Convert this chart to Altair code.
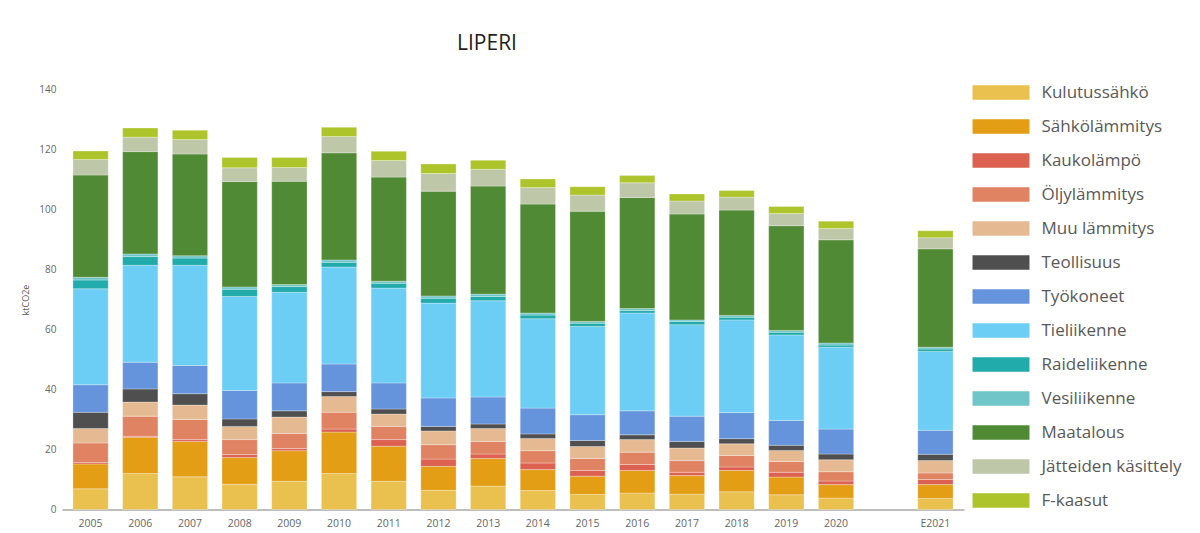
import altair as alt
import pandas as pd

years = ["2005", "2006", "2007", "2008", "2009", "2010", "2011", "2012", "2013",
         "2014", "2015", "2016", "2017", "2018", "2019", "2020", "E2021"]
x_domain = years[:-1] + ["gap"] + years[-1:]

categories = ["Kulutussähkö", "Sähkölämmitys", "Kaukolämpö", "Öljylämmitys",
              "Muu lämmitys", "Teollisuus", "Työkoneet", "Tieliikenne",
              "Raideliikenne", "Vesiliikenne", "Maatalous", "Jätteiden käsittely",
              "F-kaasut"]
colors = ["#EAC04F", "#E39E15", "#DC6150", "#E08363", "#E5BA93", "#4F4F4F",
          "#6594DD", "#6DCEF5", "#22ABAB", "#6FC5C8", "#518A35", "#BFC7A9",
          "#ADC52A"]

kulutussahko = [6.9, 12.0, 10.9, 8.4, 9.4, 12.0, 9.4, 6.4, 7.8, 6.3, 5.0, 5.5, 5.1, 5.9, 4.9, 3.8, 3.7]
sahkolammitys = [8.3, 12.1, 11.8, 8.9, 10.2, 13.8, 11.7, 8.0, 9.2, 7.0, 6.1, 7.5, 6.2, 7.1, 5.9, 4.5, 4.6]
kaukolampo = [0.5, 0.3, 0.6, 1.0, 0.7, 1.0, 2.2, 2.4, 1.5, 2.2, 1.9, 2.0, 1.1, 1.2, 1.6, 1.2, 1.7]
oljylammitys = [6.5, 6.7, 6.7, 5.0, 5.0, 5.6, 4.4, 4.8, 4.2, 4.1, 4.0, 4.1, 3.9, 3.8, 3.6, 3.1, 2.2]
muu_lammitys = [4.8, 4.7, 4.8, 4.4, 5.5, 5.3, 4.1, 4.6, 4.3, 4.1, 4.0, 4.2, 4.2, 3.9, 3.7, 4.0, 4.1]
teollisuus = [5.4, 4.4, 3.8, 2.5, 2.1, 1.6, 1.7, 1.5, 1.5, 1.5, 2.0, 1.6, 2.2, 1.7, 1.7, 1.9, 2.1]
tyokoneet = [9.2, 8.9, 9.4, 9.5, 9.3, 9.2, 8.7, 9.5, 9.0, 8.6, 8.6, 8.0, 8.4, 8.7, 8.3, 8.3, 8.0]
tieliikenne = [32.0, 32.3, 33.4, 31.3, 30.2, 32.3, 31.6, 31.6, 32.1, 29.8, 29.4, 32.6, 30.5, 30.9, 28.5, 27.3, 26.3]
raideliikenne = [2.9, 2.9, 2.4, 2.4, 1.9, 1.6, 1.6, 1.6, 1.4, 1.2, 1.1, 0.8, 1.1, 0.9, 0.9, 0.7, 0.8]
vesiliikenne = [0.9, 0.9, 0.8, 0.8, 0.7, 0.8, 0.7, 0.8, 0.8, 0.7, 0.6, 0.7, 0.5, 0.6, 0.6, 0.7, 0.6]
maatalous = [34.1, 34.1, 33.9, 35.1, 34.4, 35.7, 34.7, 34.9, 36.0, 36.3, 36.7, 37.0, 35.3, 35.1, 34.9, 34.4, 32.8]
jatteiden = [5.2, 4.8, 4.8, 4.6, 4.6, 5.4, 5.5, 5.9, 5.6, 5.5, 5.4, 4.9, 4.3, 4.3, 4.1, 3.8, 3.7]
f_kaasut = [2.8, 3.1, 3.1, 3.4, 3.3, 3.1, 3.1, 3.2, 3.0, 2.9, 2.8, 2.4, 2.4, 2.2, 2.3, 2.4, 2.3]

series = [kulutussahko, sahkolammitys, kaukolampo, oljylammitys, muu_lammitys,
          teollisuus, tyokoneet, tieliikenne, raideliikenne, vesiliikenne,
          maatalous, jatteiden, f_kaasut]

rows = []
for idx, (cat, vals) in enumerate(zip(categories, series)):
    for yr, v in zip(years, vals):
        rows.append({"year": yr, "category": cat, "value": v, "idx": idx})
df = pd.DataFrame(rows)

FONT = "Open Sans"

chart = alt.Chart(df).mark_bar(stroke="white", strokeWidth=0.4, strokeOpacity=0.7).encode(
    x=alt.X("year:N", scale=alt.Scale(domain=x_domain, paddingInner=0.29, paddingOuter=0.22),
            axis=alt.Axis(title=None, labelAngle=0, ticks=False, domainColor="#A8A8A8",
                          domainWidth=1.5, labelColor="#666666", labelFontSize=10.5,
                          labelFont=FONT, labelPadding=9,
                          labelExpr="datum.value == 'gap' ? '' : datum.label")),
    y=alt.Y("value:Q", stack="zero", scale=alt.Scale(domain=[0, 140], nice=False),
            axis=alt.Axis(title="ktCO2e", values=[0, 20, 40, 60, 80, 100, 120, 140],
                          grid=False, domain=False, ticks=False, labelColor="#666666",
                          labelFontSize=10, labelFont=FONT, labelPadding=6,
                          titleFontSize=9, titleFont=FONT, titleFontWeight="normal",
                          titleColor="#555555", titlePadding=8)),
    color=alt.Color("category:N", scale=alt.Scale(domain=categories, range=colors),
                    legend=alt.Legend(title=None, orient="none", legendX=913, legendY=-23,
                                      symbolType="M-1.11,-0.28H1.11V0.28H-1.11Z",
                                      symbolSize=2632, symbolStrokeWidth=0,
                                      labelFontSize=17, labelFont=FONT,
                                      labelColor="#595959", labelOffset=14.5,
                                      rowPadding=0, labelLimit=300)),
    order=alt.Order("idx:Q", sort="ascending"),
).properties(
    width=902, height=420,
    title=alt.TitleParams("LIPERI", fontSize=21, font=FONT, fontWeight="normal",
                          color="#1F1F1F", anchor="middle", frame="group", dx=-26,
                          offset=13),
    padding={"left": 54, "top": 81.5, "right": 220, "bottom": 20},
    autosize=alt.AutoSizeParams(type="none"),
).configure_view(stroke=None)

chart.save("out.html", embed_options={"renderer": "svg", "actions": False})
